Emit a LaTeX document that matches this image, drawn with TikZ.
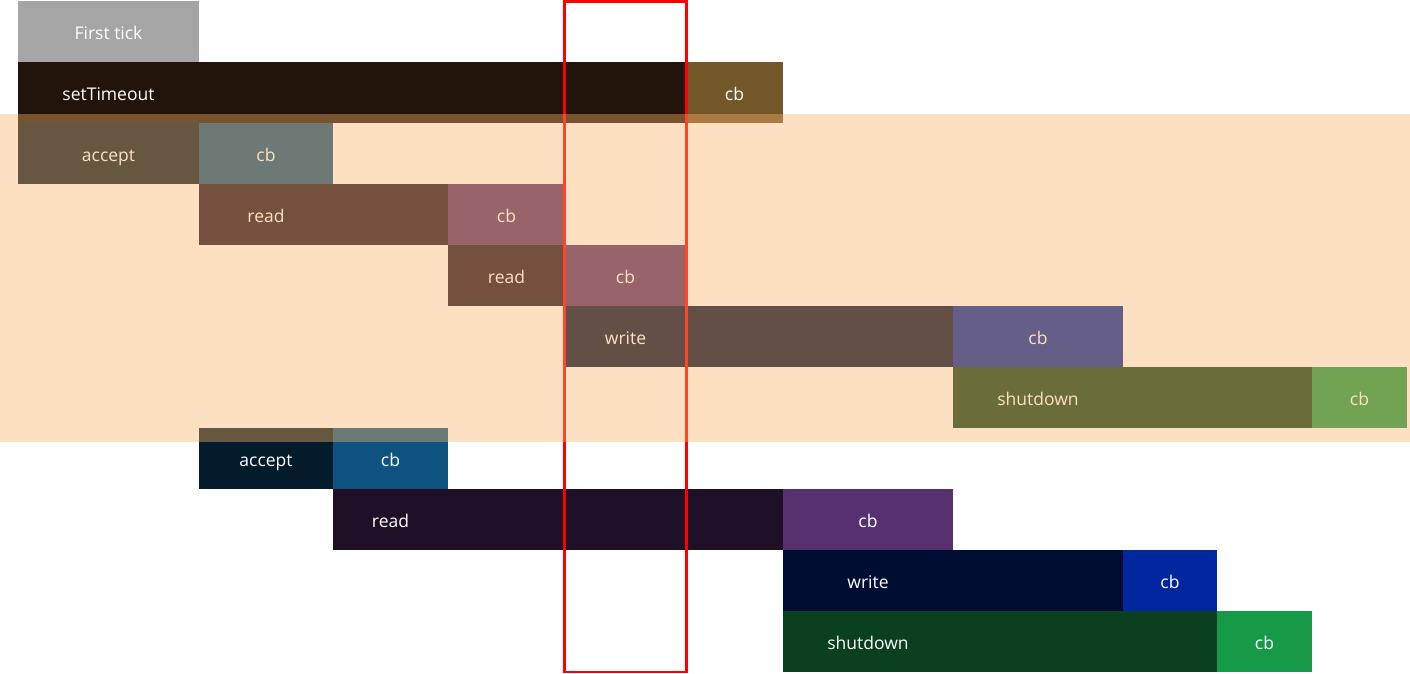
\documentclass[tikz,border=0pt]{standalone}
\usepackage{fontspec}
\setmainfont{Open Sans}
\definecolor{tickc}{HTML}{A5A5A5}
\definecolor{timerc}{HTML}{22140A}
\definecolor{timercb}{HTML}{735728}
\definecolor{acceptc}{HTML}{041B2B}
\definecolor{acceptcb}{HTML}{0E5380}
\definecolor{readc}{HTML}{1E1026}
\definecolor{readcb}{HTML}{57316F}
\definecolor{writec}{HTML}{000D33}
\definecolor{writecb}{HTML}{0127A0}
\definecolor{shutc}{HTML}{0A3F1F}
\definecolor{shutcb}{HTML}{169A48}
\definecolor{peach}{HTML}{FAB264}

\begin{document}
\begin{tikzpicture}[x=1pt,y=-1pt,
            box/.style = {inner sep=0pt,outer sep=0pt,minimum height=61pt,
                anchor=north west,text=white,text height=16pt,text depth=0pt,
                font=\fontsize{17.5}{20}\selectfont},
            txt/.style = {inner sep=0pt,text=white,text height=16pt,text depth=0pt,
                font=\fontsize{17.5}{20}\selectfont}]
            \useasboundingbox (0,0) rectangle (1410,674);
            % first tick and the timer
            \node[box,fill=tickc,minimum width=181pt](tick) at (18,1) {};
            \node[txt](tickt) at (108.5,31.5) {First tick};
            \node[box,fill=timerc,minimum width=668pt](timer) at (18,62) {};
            \node[txt](timert) at (108.5,92.5) {setTimeout};
            \node[box,fill=timercb,minimum width=97pt](timercb) at (686,62) {cb};
            % first connection
            \node[box,fill=acceptc,minimum width=181pt](acc1) at (18,123) {accept};
            \node[box,fill=acceptcb,minimum width=134pt](acc1cb) at (199,123) {cb};
            \node[box,fill=readc,minimum width=249pt](rd1) at (199,184) {};
            \node[txt](rd1t) at (266,214.5) {read};
            \node[box,fill=readcb,minimum width=117pt](rd1cb) at (448,184) {cb};
            \node[box,fill=readc,minimum width=117pt](rd2) at (448,245) {read};
            \node[box,fill=readcb,minimum width=121pt](rd2cb) at (565,245) {cb};
            \node[box,fill=writec,minimum width=388pt](wr1) at (565,306) {};
            \node[txt](wr1t) at (625.5,336.5) {write};
            \node[box,fill=writecb,minimum width=170pt](wr1cb) at (953,306) {cb};
            \node[box,fill=shutc,minimum width=359pt](sd1) at (953,367) {};
            \node[txt](sd1t) at (1038,397.5) {shutdown};
            \node[box,fill=shutcb,minimum width=95pt](sd1cb) at (1312,367) {cb};
            % second connection
            \node[box,fill=acceptc,minimum width=134pt](acc2) at (199,428) {accept};
            \node[box,fill=acceptcb,minimum width=115pt](acc2cb) at (333,428) {cb};
            \node[box,fill=readc,minimum width=450pt](rd3) at (333,489) {};
            \node[txt](rd3t) at (390.5,519.5) {read};
            \node[box,fill=readcb,minimum width=170pt](rd3cb) at (783,489) {cb};
            \node[box,fill=writec,minimum width=340pt](wr2) at (783,550) {};
            \node[txt](wr2t) at (868,580.5) {write};
            \node[box,fill=writecb,minimum width=94pt](wr2cb) at (1123,550) {cb};
            \node[box,fill=shutc,minimum width=434pt](sd2) at (783,611) {};
            \node[txt](sd2t) at (868,641.5) {shutdown};
            \node[box,fill=shutcb,minimum width=95pt](sd2cb) at (1217,611) {cb};
            % current tick and the highlighted band
            \draw[red,line width=2.7pt] (564.7,1.5) rectangle (686.7,672);
            \fill[peach,opacity=0.4] (0,114) rectangle (1410,442);
        \end{tikzpicture}
\end{document}
